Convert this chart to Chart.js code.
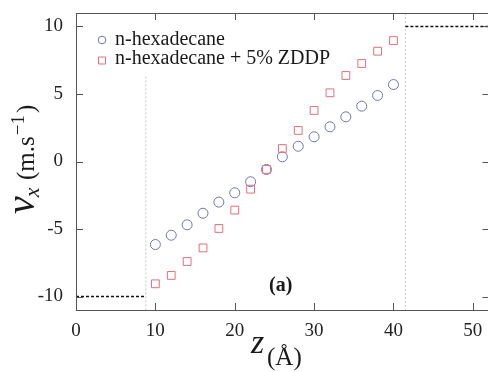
<!DOCTYPE html>
<html>
<head>
<meta charset="utf-8">
<script src="https://cdn.jsdelivr.net/npm/chart.js@4"></script>
<style>
  body { margin: 0; overflow: hidden; background: #fff; }
  #wrap { width: 496px; height: 372px; position: relative; }
</style>
</head>
<body>
<div id="wrap"><canvas id="velocityChart"></canvas></div>
<script>
// positions across the channel (Å)
const zPositions = [10, 12, 14, 16, 18, 20, 22, 24, 26, 28, 30, 32, 34, 36, 38, 40];
// velocity profiles (m/s)
const hexadecane = [-6.15, -5.46, -4.69, -3.83, -3.01, -2.32, -1.5, -0.59, 0.35, 1.13, 1.83, 2.57, 3.31, 4.1, 4.89, 5.7];
const hexadecaneZddp = [-9.06, -8.44, -7.41, -6.4, -4.96, -3.6, -2.05, -0.59, 0.96, 2.3, 3.78, 5.09, 6.37, 7.26, 8.17, 8.96];
const seriesLabels = ['n-hexadecane', 'n-hexadecane + 5% ZDDP'];

// walls
const lowerWallEdge = 8.8;
const upperWallEdge = 41.5;
const lowerWallVelocity = -10;
const upperWallVelocity = 10;

const xTickValues = [0, 10, 20, 30, 40, 50];
const yTickValues = [-10, -5, 0, 5, 10];
const xRange = [0, 52.1];
const yRange = [-11, 11];

const serif = '"Liberation Serif", "DejaVu Serif", serif';

function toPoints(xs, ys) {
    return xs.map((x, i) => ({ x: x, y: ys[i] }));
}

function noAutoPadding(scale) {
    scale.paddingLeft = 0;
    scale.paddingRight = 0;
    scale.paddingTop = 0;
    scale.paddingBottom = 0;
}

// inward ticks + full frame
const framePlugin = {
    id: 'frame',
    afterDraw(chart) {
        const ctx = chart.ctx;
        const a = chart.chartArea;
        const xs = chart.scales.x, ys = chart.scales.y;
        ctx.save();
        ctx.strokeStyle = '#555';
        ctx.lineWidth = 1;
        ctx.strokeRect(a.left + 0.5, a.top + 0.5, a.right - a.left, a.bottom - a.top);
        ctx.beginPath();
        xTickValues.forEach(v => {
            const px = Math.round(xs.getPixelForValue(v)) + 0.5;
            ctx.moveTo(px, a.bottom); ctx.lineTo(px, a.bottom - 7);
            ctx.moveTo(px, a.top); ctx.lineTo(px, a.top + 7);
        });
        yTickValues.forEach(v => {
            const py = Math.round(ys.getPixelForValue(v)) + 0.5;
            ctx.moveTo(a.left, py); ctx.lineTo(a.left + 7, py);
            ctx.moveTo(a.right, py); ctx.lineTo(a.right - 7, py);
        });
        ctx.stroke();
        ctx.restore();
    }
};

// legend, panel label and axis titles
const textPlugin = {
    id: 'texts',
    afterDraw(chart) {
        const ctx = chart.ctx;
        const a = chart.chartArea;
        ctx.save();
        ctx.fillStyle = '#1a1a1a';
        ctx.textBaseline = 'alphabetic';

        // legend
        const sets = chart.data.datasets.filter(d => d.inLegend);
        sets.forEach((d, i) => {
            const cy = a.top + 32 + i * 18.5;
            const mx = a.left + 26;
            ctx.strokeStyle = d.borderColor;
            ctx.lineWidth = 1;
            ctx.beginPath();
            if (d.pointStyle === 'circle') {
                ctx.arc(mx, cy - 5, 3.8, 0, Math.PI * 2);
            } else {
                ctx.rect(mx - 3.5, cy - 6.5, 7, 7);
            }
            ctx.stroke();
            ctx.font = '20px ' + serif;
            ctx.fillText(d.label, mx + 13, cy);
        });

        // panel label
        ctx.font = 'bold 20px ' + serif;
        ctx.textAlign = 'center';
        ctx.fillText('(a)', chart.scales.x.getPixelForValue(25.8), chart.scales.y.getPixelForValue(-9.6));
        ctx.textAlign = 'left';

        // x title
        ctx.font = 'italic 34px ' + serif;
        ctx.fillText('z', 251, 353);
        ctx.font = '25px ' + serif;
        ctx.fillText('(Å)', 267, 365);

        // y title (rotated)
        ctx.translate(34, 214);
        ctx.rotate(-Math.PI / 2);
        let rx = 0;
        ctx.font = 'italic 40px ' + serif;
        ctx.fillText('v', rx, 0);
        rx += ctx.measureText('v').width;
        ctx.font = 'italic 22px ' + serif;
        ctx.fillText('x', rx - 1, 5);
        rx = 34;
        ctx.font = '25px ' + serif;
        ctx.fillText('(m.s', rx, 0);
        rx += ctx.measureText('(m.s').width + 1;
        ctx.font = '19px ' + serif;
        ctx.fillText('−1', rx, -10);
        rx += ctx.measureText('−1').width + 2;
        ctx.font = '25px ' + serif;
        ctx.fillText(')', rx, 0);
        ctx.restore();
    }
};

const ctx = document.getElementById('velocityChart').getContext('2d');
const velocityChart = new Chart(ctx, {
    type: 'scatter',
    data: {
        datasets: [
            {
                label: seriesLabels[0],
                data: toPoints(zPositions, hexadecane),
                inLegend: true,
                pointStyle: 'circle',
                pointRadius: 5,
                borderColor: '#7272b4',
                backgroundColor: 'rgba(0,0,0,0)',
                borderWidth: 1,
                order: 1
            },
            {
                label: seriesLabels[1],
                data: toPoints(zPositions, hexadecaneZddp),
                inLegend: true,
                pointStyle: 'rect',
                pointRadius: 5.5,
                borderColor: '#e0707c',
                backgroundColor: 'rgba(0,0,0,0)',
                borderWidth: 1,
                order: 0
            },
            {
                label: 'lower wall',
                type: 'line',
                data: [{ x: xRange[0], y: lowerWallVelocity }, { x: lowerWallEdge, y: lowerWallVelocity }],
                borderColor: '#111',
                borderWidth: 1.5,
                borderDash: [3, 2],
                pointRadius: 0
            },
            {
                label: 'upper wall',
                type: 'line',
                data: [{ x: upperWallEdge, y: upperWallVelocity }, { x: xRange[1], y: upperWallVelocity }],
                borderColor: '#111',
                borderWidth: 1.5,
                borderDash: [3, 2],
                pointRadius: 0
            },
            {
                label: 'lower wall edge',
                type: 'line',
                data: [{ x: lowerWallEdge, y: 6.3 }, { x: lowerWallEdge, y: yRange[0] }],
                borderColor: '#c4c4c4',
                borderWidth: 1,
                borderDash: [2, 2],
                pointRadius: 0
            },
            {
                label: 'upper wall edge',
                type: 'line',
                data: [{ x: upperWallEdge, y: yRange[1] }, { x: upperWallEdge, y: yRange[0] }],
                borderColor: '#c4c4c4',
                borderWidth: 1,
                borderDash: [2, 2],
                pointRadius: 0
            }
        ]
    },
    options: {
        responsive: true,
        maintainAspectRatio: false,
        animation: false,
        layout: { padding: { top: 13, right: 6, left: 0, bottom: 0 } },
        plugins: {
            legend: { display: false },
            tooltip: { enabled: false }
        },
        scales: {
            x: {
                type: 'linear',
                min: xRange[0],
                max: xRange[1],
                afterBuildTicks: scale => { scale.ticks = xTickValues.map(v => ({ value: v })); },
                afterFit: scale => { scale.height = 62; noAutoPadding(scale); },
                grid: { display: false, drawTicks: false },
                border: { display: false },
                ticks: { font: { family: serif, size: 19 }, color: '#222', padding: 10, maxRotation: 0 }
            },
            y: {
                type: 'linear',
                min: yRange[0],
                max: yRange[1],
                afterBuildTicks: scale => { scale.ticks = yTickValues.map(v => ({ value: v })); },
                afterFit: scale => { scale.width = 76; noAutoPadding(scale); },
                grid: { display: false, drawTicks: false },
                border: { display: false },
                ticks: { font: { family: serif, size: 19 }, color: '#222', padding: 13 }
            }
        }
    },
    plugins: [framePlugin, textPlugin]
});
</script>
</body>
</html>
